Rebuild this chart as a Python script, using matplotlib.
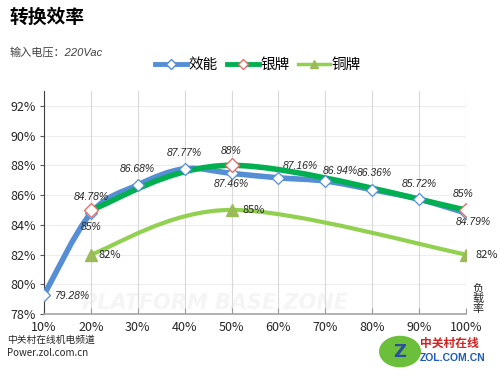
import matplotlib.pyplot as plt
import numpy as np
from matplotlib.path import Path
from matplotlib.patches import PathPatch, Circle
from matplotlib.lines import Line2D

plt.rcParams['font.family'] = ['Noto Sans CJK SC', 'DejaVu Sans']

# data
load = [10, 20, 30, 40, 50, 60, 70, 80, 90, 100]
eff = [79.28, 84.78, 86.68, 87.77, 87.46, 87.16, 86.94, 86.36, 85.72, 84.79]
silver_x = [20, 50, 100]
silver = [85, 88, 85]
bronze_x = [20, 50, 100]
bronze = [82, 85, 82]
xticks = [10, 20, 30, 40, 50, 60, 70, 80, 90, 100]
yticks = [78, 80, 82, 84, 86, 88, 90, 92]

# label offsets in pixels (dx, dy)
eff_off = [(28, -1), (0, 16), (0, 16), (0, 16), (0, -11), (22, 12), (15, 10), (2, 17), (0, 15), (7, -9)]
silver_off = [(0, -17), (0, 14), (-3, 16)]

BLUE = '#558ed5'
GREEN = '#00b050'
LIME = '#92d050'
OLIVE = '#9bbb59'
ITAL = ['Liberation Sans', 'Noto Sans CJK SC']


def smooth_path(xs, ys):
    # Excel-style smoothed line: cubic Bezier through the points
    pts = np.column_stack([xs, ys]).astype(float)
    verts = [pts[0]]
    codes = [Path.MOVETO]
    n = len(pts)
    for i in range(n - 1):
        p0 = pts[max(i - 1, 0)]
        p1 = pts[i]
        p2 = pts[i + 1]
        p3 = pts[min(i + 2, n - 1)]
        c1 = p1 + (p2 - p0) / 6
        c2 = p2 - (p3 - p1) / 6
        verts += [c1, c2, p2]
        codes += [Path.CURVE4] * 3
    return Path(verts, codes)


fig = plt.figure(figsize=(5, 3.76), dpi=100)
ax = fig.add_axes([0.088, 0.165, 0.844, 0.593])

ax.set_xlim(10, 100)
ax.set_ylim(78, 93)

# watermark
ax.text(18, 78.35, 'PLATFORM BASE ZONE', fontsize=15, fontweight='bold', style='italic',
        color='#f5f5f5', family='DejaVu Sans', zorder=0)

for xs, ys, col, lw, z in [(load, eff, BLUE, 4, 3), (silver_x, silver, GREEN, 4, 4),
                           (bronze_x, bronze, LIME, 3, 3)]:
    ax.add_patch(PathPatch(smooth_path(xs, ys), facecolor='none', edgecolor=col,
                           lw=lw, capstyle='round', joinstyle='round', zorder=z))

ax.plot(load, eff, ls='none', marker='D', ms=6, mfc='white', mec=BLUE, mew=0.9, zorder=5)
ax.plot(silver_x, silver, ls='none', marker='D', ms=7.5, mfc='white', mec='#e0706a', mew=1, zorder=6)
ax.plot(bronze_x, bronze, ls='none', marker='^', ms=8, color=OLIVE, zorder=5)

lab = dict(fontsize=7.5, style='italic', color='#262626', textcoords='offset pixels',
           ha='center', va='center', family=ITAL)
for x, y, (dx, dy) in zip(load, eff, eff_off):
    ax.annotate(f'{y:.2f}%', (x, y), xytext=(dx, dy), **lab)
for x, y, (dx, dy) in zip(silver_x, silver, silver_off):
    ax.annotate(f'{y:g}%', (x, y), xytext=(dx, dy), **lab)
for x, y, dx in zip(bronze_x, bronze, [8, 11, 10]):
    ax.annotate(f'{y:g}%', (x, y), xytext=(dx, 0), textcoords='offset pixels',
                ha='left', va='center', fontsize=8, color='#262626')

ax.set_xticks(xticks)
ax.set_xticklabels([f'{v}%' for v in xticks], fontsize=9, color='#262626')
ax.set_yticks(yticks)
ax.set_yticklabels([f'{v}%' for v in yticks], fontsize=9, color='#262626')
ax.tick_params(axis='x', direction='in', length=4, color='#999999', pad=5)
ax.tick_params(axis='y', direction='out', length=3, color='#595959', pad=3)
ax.grid(axis='x', color='#d9d9d9', lw=0.8)
for v in yticks:
    ax.axhline(v, color='#ededed', lw=0.8, zorder=0)
ax.set_axisbelow(True)
for s in ['top', 'right']:
    ax.spines[s].set_visible(False)
ax.spines['left'].set_color('#404040')
ax.spines['bottom'].set_color('#a6a6a6')
ax.spines['bottom'].set_linewidth(1.2)

# titles
fig.text(0.02, 0.955, '转换效率', fontsize=13.5, fontweight='bold', va='center', ha='left')
fig.text(0.02, 0.862, '输入电压：220Vac', fontsize=8, style='italic', color='#404040',
         va='center', ha='left', family=ITAL)

handles = [Line2D([], [], color=BLUE, lw=3.5, marker='D', ms=5, mfc='white', mec=BLUE),
           Line2D([], [], color=GREEN, lw=3.5, marker='D', ms=5, mfc='white', mec='#e0706a'),
           Line2D([], [], color=LIME, lw=2.5, marker='^', ms=6, mfc=OLIVE, mec=OLIVE)]
fig.legend(handles, ['效能', '银牌', '铜牌'], loc='center', bbox_to_anchor=(0.516, 0.827),
           ncol=3, frameon=False, fontsize=10.5, handlelength=2.2, handletextpad=0.1,
           columnspacing=0.6)

fig.text(0.956, 0.205, '负\n载\n率', fontsize=8, ha='center', va='center', linespacing=1.0,
         color='#262626')
fig.text(0.014, 0.097, '中关村在线机电频道', fontsize=7, ha='left', va='center', color='#262626')
fig.text(0.014, 0.062, 'Power.zol.com.cn', fontsize=7, ha='left', va='center', color='#262626')

# logo
fig.patches.append(Circle((0.80, 0.065), 0.042, transform=fig.transFigure,
                          facecolor='#6cbf3a', edgecolor='none'))
fig.text(0.80, 0.065, 'Z', fontsize=13, fontweight='bold', color='#2a4f9c',
         ha='center', va='center', family='DejaVu Sans')
fig.text(0.84, 0.086, '中关村在线', fontsize=8.5, fontweight='bold', color='#d42020',
         ha='left', va='center')
fig.text(0.84, 0.048, 'ZOL.COM.CN', fontsize=7.5, fontweight='bold', color='#1e5bb8',
         ha='left', va='center', family='Liberation Sans')

fig.savefig('out.png', dpi=100)
